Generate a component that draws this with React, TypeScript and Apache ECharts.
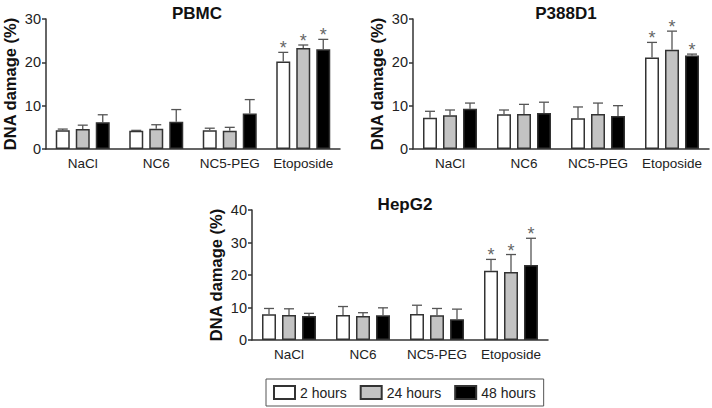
import React, { useEffect, useRef } from "react";
import * as echarts from "echarts";

const categories = ["NaCl", "NC6", "NC5-PEG", "Etoposide"];
const seriesNames = ["2 hours", "24 hours", "48 hours"];
const significant = [false, false, false, true];

const pbmcMean2h = [4.3, 4.2, 4.3, 20.2];
const pbmcErr2h = [0.3, 0.1, 0.5, 2.1];
const pbmcMean24h = [4.6, 4.7, 4.2, 23.3];
const pbmcErr24h = [0.9, 0.9, 0.8, 0.7];
const pbmcMean48h = [6.2, 6.3, 8.2, 23.0];
const pbmcErr48h = [1.7, 2.8, 3.2, 2.3];

const p388Mean2h = [7.2, 8.0, 7.1, 21.1];
const p388Err2h = [1.5, 1.0, 2.6, 3.5];
const p388Mean24h = [7.8, 8.1, 8.1, 22.9];
const p388Err24h = [1.2, 2.2, 2.5, 4.3];
const p388Mean48h = [9.3, 8.3, 7.6, 21.6];
const p388Err48h = [1.3, 2.5, 2.4, 0.3];

const hepMean2h = [7.9, 7.7, 8.0, 21.3];
const hepErr2h = [1.8, 2.6, 2.7, 3.5];
const hepMean24h = [7.7, 7.4, 7.6, 20.9];
const hepErr24h = [1.9, 1.0, 2.1, 5.4];
const hepMean48h = [7.4, 7.6, 6.4, 23.1];
const hepErr48h = [0.8, 2.3, 3.1, 8.2];

const panels = [
  { title: "PBMC", yMax: 30, means: [pbmcMean2h, pbmcMean24h, pbmcMean48h], errs: [pbmcErr2h, pbmcErr24h, pbmcErr48h] },
  { title: "P388D1", yMax: 30, means: [p388Mean2h, p388Mean24h, p388Mean48h], errs: [p388Err2h, p388Err24h, p388Err48h] },
  { title: "HepG2", yMax: 40, means: [hepMean2h, hepMean24h, hepMean48h], errs: [hepErr2h, hepErr24h, hepErr48h] },
];

const grids = [
  { left: 44, top: 19, width: 296, height: 130 },
  { left: 413, top: 19, width: 296, height: 130 },
  { left: 252, top: 210, width: 296, height: 130 },
];

const FONT = "'Liberation Sans', Arial, sans-serif";
const BAR_W = 14;
const BAR_GAP = 6;
const fills = ["#ffffff", "#c3c3c3", "#000000"];
const AXIS_COLOR = "#333";

export default function App() {
  const ref = useRef<HTMLDivElement>(null);

  useEffect(() => {
    if (!ref.current) return;
    const chart = echarts.init(ref.current, undefined, { renderer: "svg" });

    const xAxes: any[] = [];
    const yAxes: any[] = [];
    const series: any[] = [];
    const titles: any[] = [];

    panels.forEach((p, gi) => {
      const g = grids[gi];
      titles.push({
        text: p.title,
        left: g.left + g.width / 2,
        top: gi === 2 ? 191 : 0,
        textAlign: "center",
        textStyle: { fontFamily: FONT, fontSize: 17, fontWeight: "bold", color: "#111" },
      });
      xAxes.push({
        type: "category",
        gridIndex: gi,
        data: categories,
        axisLine: { lineStyle: { color: AXIS_COLOR, width: 1.5 } },
        axisTick: { alignWithLabel: true, length: 4, lineStyle: { color: AXIS_COLOR, width: 1.5 } },
        axisLabel: { interval: 0, fontFamily: FONT, fontSize: 13.5, color: "#222", margin: 7 },
      });
      yAxes.push({
        type: "value",
        gridIndex: gi,
        min: 0,
        max: p.yMax,
        interval: 10,
        name: "DNA damage (%)",
        nameLocation: "middle",
        nameGap: 28,
        nameTextStyle: { fontFamily: FONT, fontSize: 16.5, fontWeight: "bold", color: "#111" },
        axisLine: { show: true, lineStyle: { color: AXIS_COLOR, width: 1.5 } },
        axisTick: { show: true, length: 4, lineStyle: { color: AXIS_COLOR, width: 1.5 } },
        axisLabel: { fontFamily: FONT, fontSize: 14.5, color: "#222", margin: 5 },
        splitLine: { show: false },
      });
      seriesNames.forEach((name, si) => {
        series.push({
          type: "bar",
          name,
          xAxisIndex: gi,
          yAxisIndex: gi,
          data: p.means[si],
          barWidth: BAR_W,
          barGap: (BAR_GAP / BAR_W) * 100 + "%",
          itemStyle: { color: fills[si], borderColor: "#333", borderWidth: 1.5 },
          z: 2,
        });
      });
      seriesNames.forEach((name, si) => {
        const offset = (si - 1) * (BAR_W + BAR_GAP);
        series.push({
          type: "custom",
          name: name + " error",
          xAxisIndex: gi,
          yAxisIndex: gi,
          data: categories.map((_, ci) => [ci, p.means[si][ci], p.errs[si][ci], significant[ci] ? 1 : 0]),
          encode: { x: 0, y: 1 },
          z: 3,
          renderItem: (params: any, api: any) => {
            const ci = api.value(0);
            const mean = api.value(1);
            const err = api.value(2);
            const sig = api.value(3);
            const base = api.coord([ci, mean]);
            const top = api.coord([ci, mean + err]);
            const x = base[0] + offset;
            const children: any[] = [
              { type: "line", shape: { x1: x, y1: base[1], x2: x, y2: top[1] }, style: { stroke: "#555", lineWidth: 1.3 } },
              { type: "line", shape: { x1: x - 5, y1: top[1], x2: x + 5, y2: top[1] }, style: { stroke: "#555", lineWidth: 1.3 } },
            ];
            if (sig) {
              children.push({
                type: "text",
                x,
                y: top[1] + 5,
                style: { text: "*", fontFamily: FONT, fontSize: 18, fill: "#666", align: "center", verticalAlign: "bottom" },
              });
            }
            return { type: "group", children };
          },
        });
      });
    });

    chart.setOption({
      animation: false,
      backgroundColor: "#fff",
      title: titles,
      grid: grids.map((g) => ({ ...g, containLabel: false })),
      xAxis: xAxes,
      yAxis: yAxes,
      series,
      legend: {
        data: seriesNames,
        left: 266,
        top: 379,
        orient: "horizontal",
        borderColor: "#555",
        borderWidth: 1,
        padding: [6, 8, 6, 7],
        itemWidth: 21,
        itemHeight: 13,
        itemGap: 13,
        icon: "rect",
        textStyle: { fontFamily: FONT, fontSize: 14, color: "#222", padding: [0, 0, 0, 0] },
        selectedMode: false,
      },
    });

    return () => chart.dispose();
  }, []);

  return (
    <div
      ref={ref}
      style={{ position: "absolute", left: 0, top: 0, width: 712, height: 408, background: "#fff" }}
    />
  );
}
